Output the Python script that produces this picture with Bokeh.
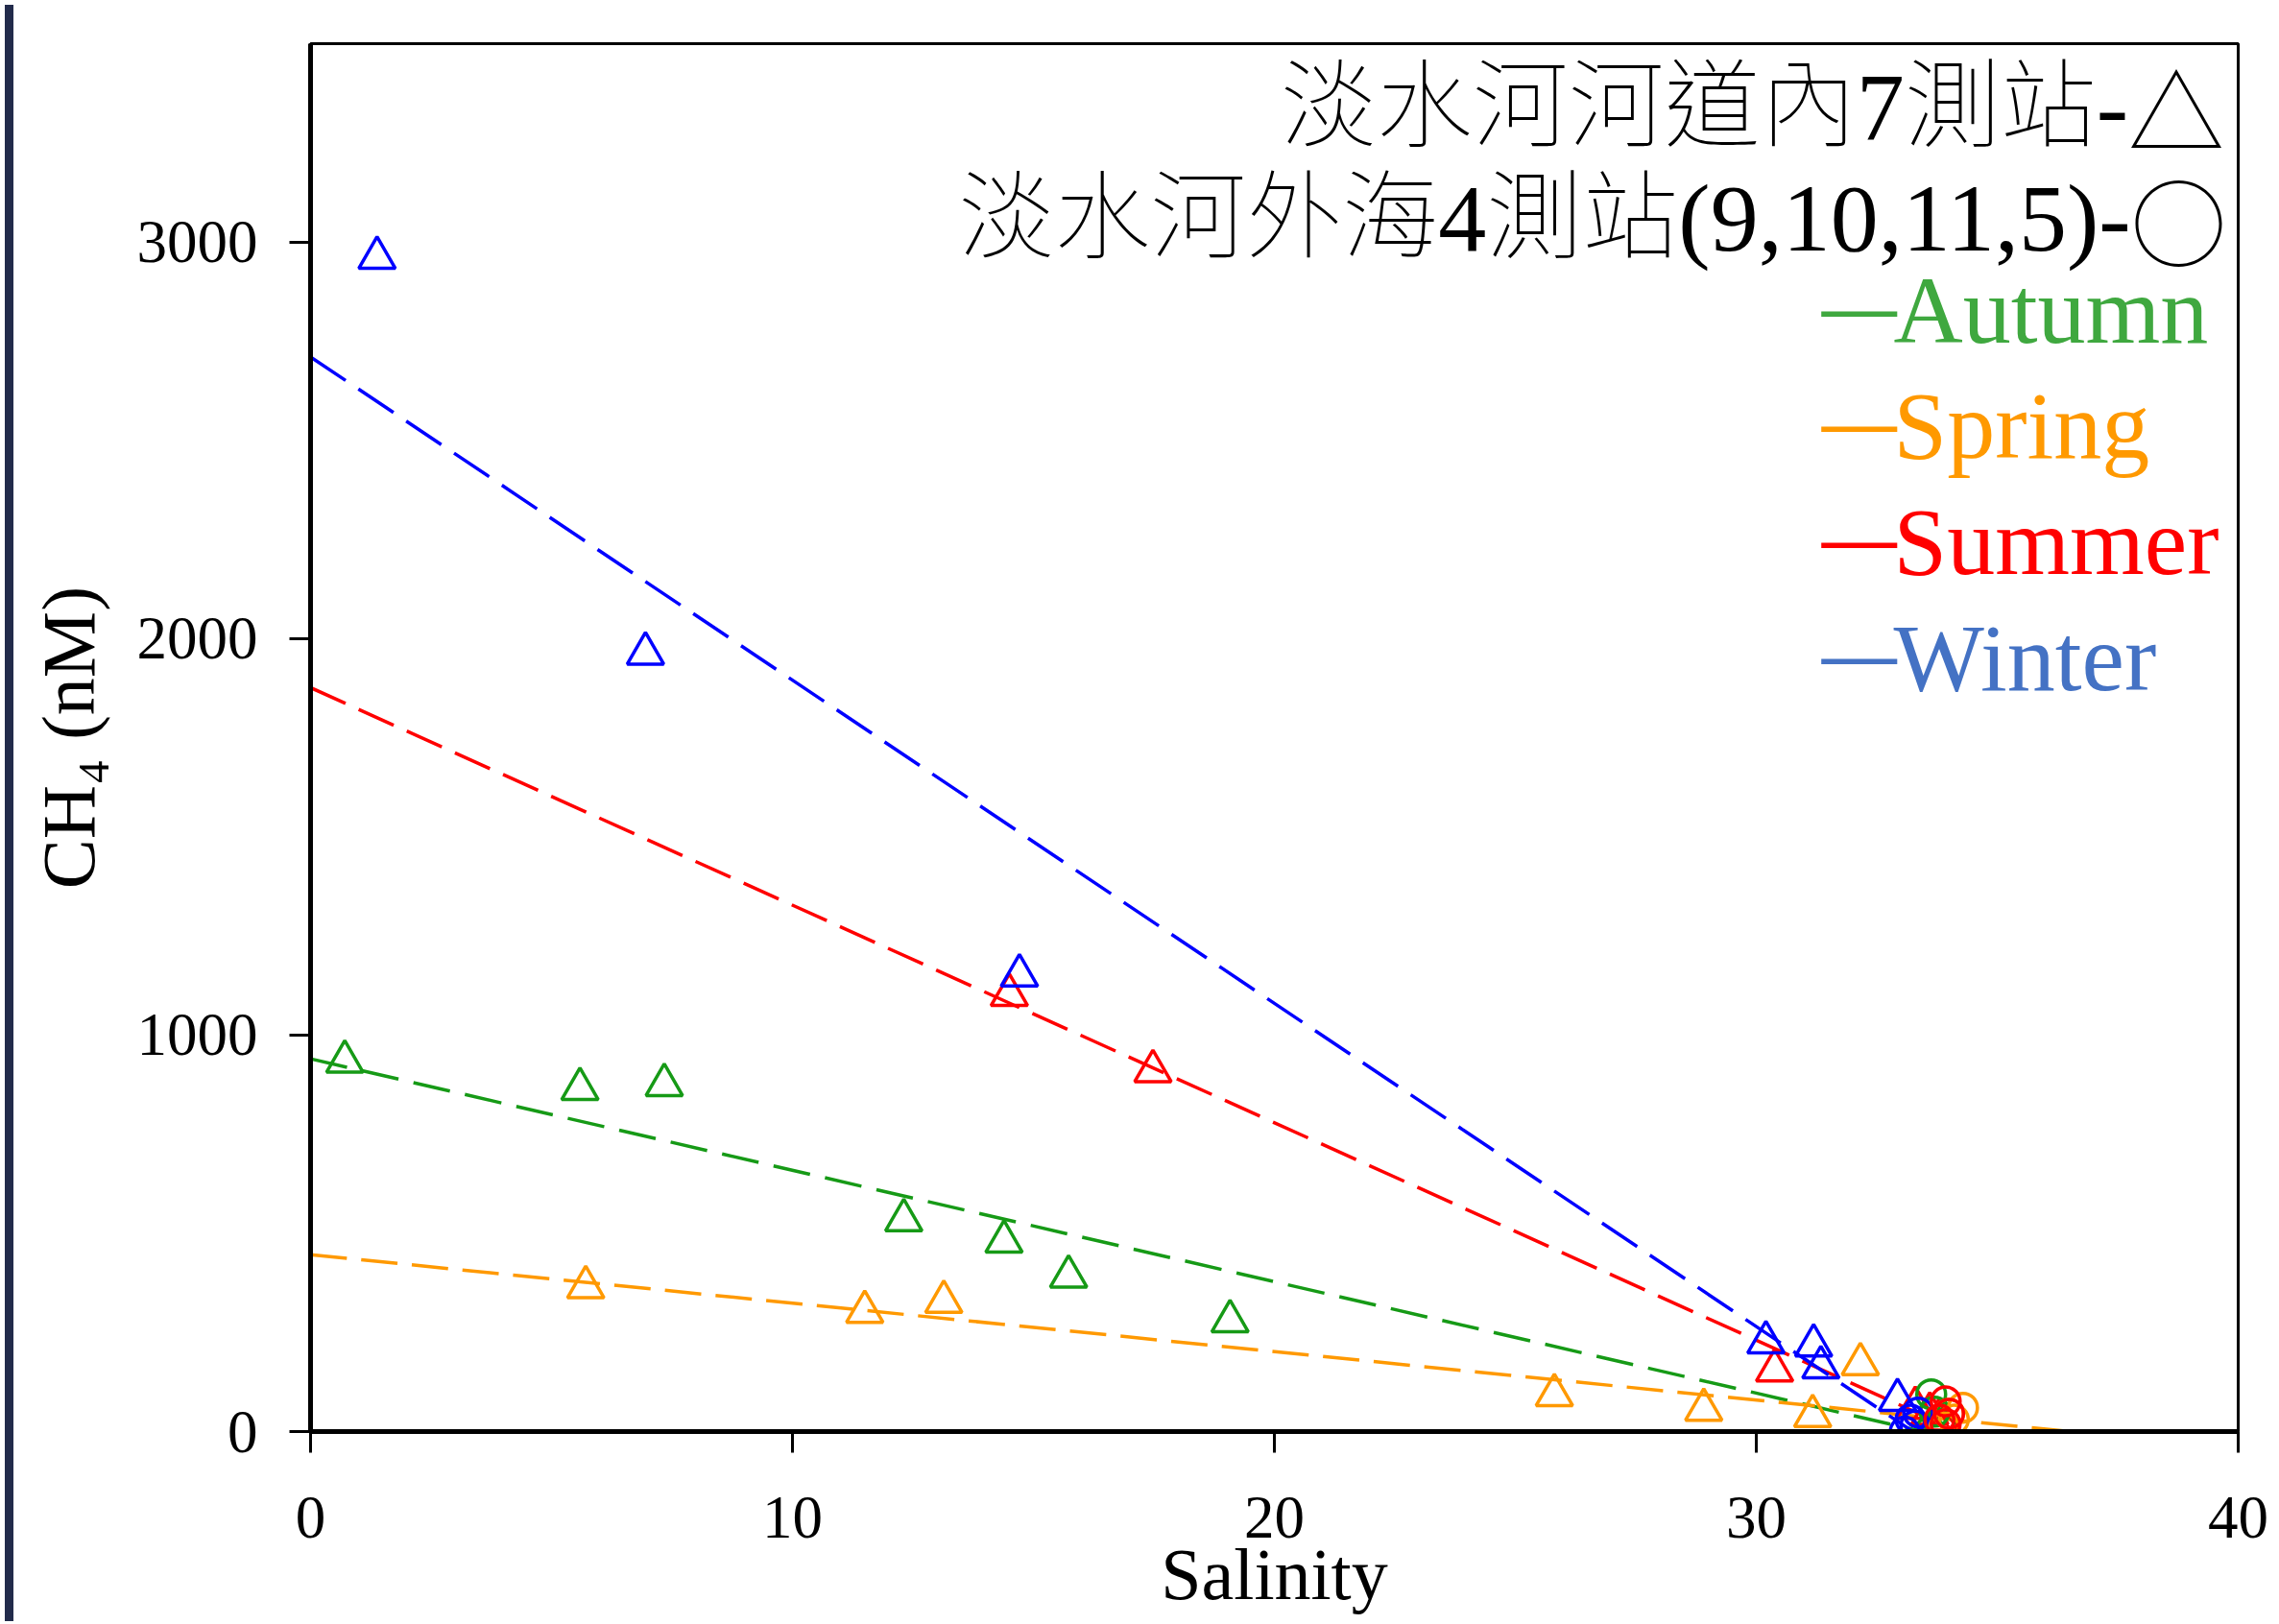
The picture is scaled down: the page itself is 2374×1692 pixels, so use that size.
from bokeh.plotting import figure
from bokeh.models import Label, Range1d, FixedTicker, Div
from bokeh.layouts import row
from bokeh.embed import file_html
from bokeh.resources import INLINE

# ---------------- data ----------------
x_ticks = [0, 10, 20, 30, 40]
y_ticks = [0, 1000, 2000, 3000]

# river stations (triangles)
autumn_tri_x = [0.71, 5.59, 7.34, 12.31, 14.39, 15.73, 19.08]
autumn_tri_y = [933, 864, 874, 533, 479, 391, 278]
spring_tri_x = [5.71, 11.50, 13.14, 25.81, 28.91, 31.17, 32.16]
spring_tri_y = [364, 302, 327, 92, 55, 39, 170]
summer_tri_x = [14.50, 17.48, 30.38, 33.30, 33.60, 33.80, 33.90]
summer_tri_y = [1101, 909, 154, 60, 45, 30, 15]
winter_tri_x = [1.38, 6.95, 14.71, 30.20, 31.19, 31.34, 32.93]
winter_tri_y = [2960, 1962, 1150, 225, 217, 162, 80]

# offshore stations (circles)
autumn_cir_x = [33.63, 33.60, 33.70, 33.80]
autumn_cir_y = [94, 0, 50, 20]
winter_cir_x = [33.08, 33.36, 33.20, 33.30]
winter_cir_y = [0, 48, 30, 15]
spring_cir_x = [34.29, 34.10, 33.90, 34.00]
spring_cir_y = [60, 30, 10, 45]
summer_cir_x = [33.93, 33.93, 34.00, 33.80]
summer_cir_y = [76, 19, 45, 30]

# dashed mixing lines (endpoints)
autumn_fit_x = [0, 33.45]
autumn_fit_y = [940, 0]
spring_fit_x = [0, 36.5]
spring_fit_y = [446, 0]
summer_fit_x = [0, 34.2]
summer_fit_y = [1876, 0]
winter_fit_x = [0, 33.25]
winter_fit_y = [2710, 0]

seasons = ["Autumn", "Spring", "Summer", "Winter"]
title1 = "淡水河河道內7測站-"
title1_sym = "△"
title2 = "淡水河外海4測站(9,10,11,5)-"
title2_sym = "○"

# ---------------- styling ----------------
SERIF = "Liberation Serif"
MIX = "Liberation Serif, Noto Sans CJK TC"
CJK = "Noto Sans CJK TC"
mark_col = {"Autumn": "#169a16", "Spring": "#ff9900", "Summer": "#ff0000", "Winter": "#0000ff"}
legend_col = {"Autumn": "#3fa83f", "Spring": "#ff9900", "Summer": "#ff0000", "Winter": "#4472c4"}
dashes = {"Autumn": "39 16", "Spring": "38 15", "Summer": "40 15", "Winter": "44 16"}

H = 1684
p = figure(width=2349, height=H, output_backend="svg", toolbar_location=None,
           x_range=Range1d(0, 40), y_range=Range1d(0, 3500),
           min_border_left=304, min_border_right=37, min_border_top=45,
           min_border_bottom=191)
p.background_fill_color = "white"
p.border_fill_color = "white"
p.outline_line_color = "black"
p.outline_line_width = 3
p.xgrid.visible = False
p.ygrid.visible = False

p.xaxis.ticker = FixedTicker(ticks=x_ticks)
p.yaxis.ticker = FixedTicker(ticks=y_ticks)
for ax in (p.xaxis, p.yaxis):
    ax.axis_line_width = 5
    ax.axis_line_color = "black"
    ax.major_tick_out = 22
    ax.major_tick_in = 0
    ax.minor_tick_out = 0
    ax.minor_tick_in = 0
    ax.major_tick_line_width = 3
    ax.major_tick_line_color = "black"
    ax.major_label_text_font = SERIF
    ax.major_label_text_font_size = "63px"
    ax.major_label_text_color = "black"
    ax.axis_label_text_font = SERIF
    ax.axis_label_text_font_style = "normal"
    ax.axis_label_text_color = "black"
p.xaxis.major_label_standoff = 46
p.yaxis.major_label_standoff = 33
p.yaxis.axis_label = "CH₄ (nM)"
p.yaxis.axis_label_text_font_size = "78px"
p.yaxis.axis_label_standoff = 25
p.xaxis.axis_label = "Salinity"
p.xaxis.axis_label_text_font_size = "76px"
p.xaxis.axis_label_standoff = -7

fits = {
    "Autumn": (autumn_fit_x, autumn_fit_y),
    "Spring": (spring_fit_x, spring_fit_y),
    "Summer": (summer_fit_x, summer_fit_y),
    "Winter": (winter_fit_x, winter_fit_y),
}
tris = {
    "Autumn": (autumn_tri_x, autumn_tri_y),
    "Spring": (spring_tri_x, spring_tri_y),
    "Summer": (summer_tri_x, summer_tri_y),
    "Winter": (winter_tri_x, winter_tri_y),
}
cirs = [
    ("Autumn", autumn_cir_x, autumn_cir_y),
    ("Winter", winter_cir_x, winter_cir_y),
    ("Spring", spring_cir_x, spring_cir_y),
    ("Summer", summer_cir_x, summer_cir_y),
]

for s in seasons:
    fx, fy = fits[s]
    p.line(fx, fy, line_color=mark_col[s], line_width=3.5, line_dash=dashes[s])

for s in seasons:
    tx, ty = tris[s]
    p.scatter(tx, ty, marker="triangle", size=38, fill_color=None,
              line_color=mark_col[s], line_width=3.5)

for s, cx, cy in cirs:
    p.scatter(cx, cy, marker="circle", size=30, fill_color=None,
              line_color=mark_col[s], line_width=3.5)

# top-right annotation lines
def lab(x, y, text, font, size, color="black", align="right", style="normal"):
    p.add_layout(Label(x=x, y=y, text=text, text_align=align,
                       text_baseline="alphabetic", text_font=font,
                       text_font_style=style,
                       text_font_size=size, text_color=color))

lab(39.71, 3341, title1_sym, CJK, "100px")
lab(39.71 - 1.99, 3341, title1, MIX, "100px")
lab(39.76, 3060, title2_sym, CJK, "100px")
lab(39.76 - 1.99, 3060, title2, MIX, "100px")

# season legend (coloured text)
legend_y = [2828, 2536, 2243, 1951]
for s, ly in zip(seasons, legend_y):
    lab(31.36, ly + 10, "—", SERIF, "78px", legend_col[s], "left", "bold")
    lab(32.85, ly, s, SERIF, "100px", legend_col[s], "left")

bar = Div(text="", width=9, height=H, styles={"background-color": "#222b4b"})
layout = row(bar, p)

open("out.html", "w").write(file_html(layout, INLINE))
